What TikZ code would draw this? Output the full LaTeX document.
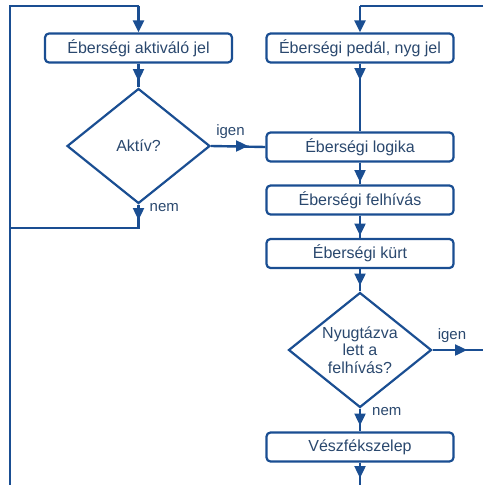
\documentclass[tikz,border=0pt]{standalone}
\usepackage{fontspec}
\setmainfont{Liberation Sans}
\usetikzlibrary{shapes.geometric,arrows.meta,positioning}
\definecolor{vonal}{RGB}{26,78,146}
\definecolor{betu}{RGB}{42,72,110}

\tikzset{
  doboz/.style={draw=vonal, line width=2.2pt, rounded corners=4pt, fill=white,
    minimum width=187pt, minimum height=29pt, inner sep=0pt,
    text=betu, font=\fontsize{16}{18}\selectfont},
  dontes/.style={draw=vonal, line width=2.2pt, diamond, aspect=1.25, inner sep=0pt,
    minimum width=143pt, minimum height=115pt, align=center,
    text=betu, font=\fontsize{16}{17.5}\selectfont},
  cimke/.style={text=betu, inner sep=0pt, font=\fontsize{15}{17}\selectfont},
  folyam/.style={draw=vonal, line width=2.4pt},
  hegy/.style={draw=vonal, fill=vonal, line width=2.4pt, -{Triangle[length=12pt,width=11pt]}}
}

\begin{document}
\begin{tikzpicture}[x=1pt,y=-1pt]
                \useasboundingbox (0,0) rectangle (483,485);

                % bal oldali ag
                \node[doboz] (aktjel) at (138.5,48) {Éberségi aktiváló jel};
                \node[dontes] (aktiv) at (138.5,146) {Aktív?};

                % jobb oldali ag
                \node[doboz] (pedal) at (360,48) {Éberségi pedál, nyg jel};
                \node[doboz] (logika) at (360,147) {Éberségi logika};
                \node[doboz] (felhiv) at (360,200) {Éberségi felhívás};
                \node[doboz] (kurt) at (360,253.5) {Éberségi kürt};
                \node[dontes] (nyugta) at (360,350) {Nyugtázva\\lett a\\felhívás?};
                \node[doboz] (vesz) at (360,447) {Vészfékszelep};

                \coordinate (balalul) at (10,485);
                \coordinate (balfent) at (10,6);
                \coordinate (aktfent) at (138.5,6);
                \coordinate (nemsarok) at (138.5,228);
                \coordinate (nembal) at (10,228);
                \coordinate (jobbfent) at (483,6);
                \coordinate (pedfent) at (360,6);
                \coordinate (igenki) at (483,350);
                \coordinate (lent) at (360,485);

                % nyilhegyek helye
                \coordinate (h1) at (138.5,81);
                \coordinate (h2) at (138.5,220);
                \coordinate (h3) at (248,146);
                \coordinate (h4) at (360,80);
                \coordinate (h5) at (360,182);
                \coordinate (h6) at (360,235.5);
                \coordinate (h7) at (360,285.5);
                \coordinate (h8) at (467,350);
                \coordinate (h9) at (360,425.5);
                \coordinate (h10) at (360,478);

                \draw[folyam] (balalul) -- (balfent) -- (aktfent);
                \draw[hegy] (aktfent) -- (aktjel.north);
                \draw[folyam] (aktjel.south) -- (aktiv.north);
                \draw[hegy] (aktjel.south) -- (h1);
                \draw[folyam] (aktiv.south) -- (nemsarok) -- (nembal);
                \draw[hegy] (aktiv.south) -- (h2);
                \draw[folyam] (aktiv.east) -- (logika.west);
                \draw[hegy] (aktiv.east) -- (h3);

                \draw[folyam] (jobbfent) -- (pedfent);
                \draw[hegy] (pedfent) -- (pedal.north);
                \draw[folyam] (pedal.south) -- (logika.north);
                \draw[hegy] (pedal.south) -- (h4);
                \draw[folyam] (logika.south) -- (felhiv.north);
                \draw[hegy] (logika.south) -- (h5);
                \draw[folyam] (felhiv.south) -- (kurt.north);
                \draw[hegy] (felhiv.south) -- (h6);
                \draw[folyam] (kurt.south) -- (nyugta.north);
                \draw[hegy] (kurt.south) -- (h7);
                \draw[folyam] (nyugta.east) -- (igenki);
                \draw[hegy] (nyugta.east) -- (h8);
                \draw[folyam] (nyugta.south) -- (vesz.north);
                \draw[hegy] (nyugta.south) -- (h9);
                \draw[folyam] (vesz.south) -- (lent);
                \draw[hegy] (vesz.south) -- (h10);

                \node[cimke, above right=7pt and 5pt of aktiv.east] (igen1) {igen};
                \node[cimke, right=11pt of aktiv.south, yshift=-3pt] (nem1) {nem};
                \node[cimke, above right=7pt and 5pt of nyugta.east] (igen2) {igen};
                \node[cimke, right=12pt of nyugta.south, yshift=-3pt] (nem2) {nem};
\end{tikzpicture}
\end{document}
